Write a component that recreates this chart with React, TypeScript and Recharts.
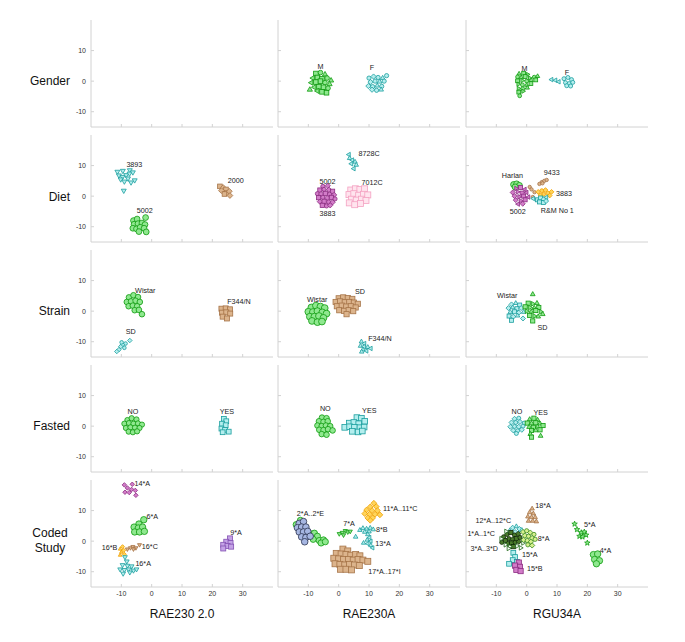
import { Scatter, ScatterChart, XAxis, YAxis } from "recharts";

type Pt = [number, number];
type Note = [number, number, string];

const rowNames = ["Gender", "Diet", "Strain", "Fasted", "Coded Study"];
const colNames = ["RAE230 2.0", "RAE230A", "RGU34A"];
const xTicks = [-10, 0, 10, 20, 30];
const yTicks = [-10, 0, 10];

// Gender
const genderRae230aM: Pt[] = [[-7.5, 2.5], [-6, 2.8], [-4.5, 2.2], [-8.5, 1], [-7, 1.2], [-5.5, 0.8], [-3.8, 1], [-2.5, 0.2], [-9, -0.5], [-7.5, -0.3], [-6, 0], [-4.5, -0.5], [-3, -1], [-8, -2], [-6.5, -1.8], [-5, -2], [-3.5, -2.3], [-9.5, -2.8], [-7, -3.2], [-5.5, -3.5], [-4, -3.8]];
const genderRae230aF: Pt[] = [[10, 1], [11.5, 1.5], [13, 1.2], [14.5, 1], [15.8, 1.8], [10.5, -0.3], [12, 0], [13.5, -0.2], [15, 0], [9.8, -1.6], [11.2, -1.8], [12.7, -1.5], [14.2, -1.7], [11, -2.8], [12.5, -3], [14, -2.8]];
const genderRgu34aM: Pt[] = [[-2.5, 2.4], [-1, 2.6], [0.3, 2.2], [-3, 1.4], [-1.8, 1.2], [-0.5, 1.5], [1, 1], [2.5, 1.3], [3.6, 1.6], [-3, 0.1], [-1.5, 0.2], [0, 0], [1.5, 0.3], [3, 0.4], [-2.8, -1], [-1.4, -1.2], [0, -1.3], [1.4, -0.8], [-2.7, -2.4], [-1.3, -2.5], [0.2, -2.2], [-2.6, -3.6], [-1.2, -3.3], [-2.3, -4.8]];
const genderRgu34aF: Pt[] = [[8.2, 0.5], [9.5, 0.3], [10.6, -0.2], [12.3, 0.8], [13.6, 1.2], [14.8, 0.5], [12.8, -0.5], [14, -0.8], [15.2, -0.4], [13.2, -1.5], [14.5, -1.6]];
const genderRae230aNotes: Note[] = [[-6, 4.9, "M"], [11, 4.3, "F"]];
const genderRgu34aNotes: Note[] = [[-0.7, 4.2, "M"], [13.3, 2.8, "F"]];

// Diet
const dietRae230_3893: Pt[] = [[-11.3, 8], [-9.5, 8.3], [-7.2, 8.5], [-10.8, 6.8], [-9.6, 6.3], [-8.4, 6.9], [-7.3, 7.4], [-6.2, 7.8], [-10.2, 5.5], [-9, 4.8], [-7.8, 5.8], [-6.8, 4.5], [-5.6, 5.2], [-9.2, 1.8]];
const dietRae230_5002: Pt[] = [[-6, -8], [-4.8, -7.5], [-2, -7], [-5.8, -9.2], [-4.5, -9], [-3.2, -8.8], [-2.2, -9.3], [-6.2, -10.5], [-5, -10.7], [-3.8, -10.2], [-2.5, -10.5], [-4.2, -11.6], [-1.8, -11.7]];
const dietRae230_2000: Pt[] = [[22.5, 3.2], [23.6, 2.8], [24.5, 2.2], [23, 1.8], [24.8, 1], [25.6, 1.6], [24, 0.7], [25.8, 0.2]];
const dietRae230a5002: Pt[] = [[-5.2, 3.2], [-3.6, 3.4], [-6.2, 2], [-4.8, 2.2], [-3.2, 2.1], [-2, 1.6], [-7, 0.8], [-5.8, 0.7], [-4.4, 0.9], [-3, 0.6], [-1.5, 0.4], [-6.6, -0.5], [-5.2, -0.4], [-3.8, -0.6], [-2.4, -0.4], [-1.2, -0.9], [-6.2, -1.8], [-4.8, -1.7], [-3.3, -1.9], [-2, -2], [-5.4, -3], [-4, -3.2], [-2.8, -3]];
const dietRae230a8728C: Pt[] = [[3.4, 13.6], [3.6, 12.4], [4.5, 11.8], [5.4, 11.2], [4.2, 10.6], [5.8, 10.2], [5, 9]];
const dietRae230a7012C: Pt[] = [[4, 2], [5.5, 2.4], [7, 2.2], [8.5, 2.4], [3.4, 0.5], [5, 0.8], [6.6, 0.3], [8.2, 0.6], [9.6, 0.4], [4.2, -1], [5.8, -1.3], [7.5, -1], [9, -1.4], [3.5, -2.2], [5.3, -2.8], [7.2, -2.4]];
const dietRgu34aHarlan: Pt[] = [[-4.3, 3.8], [-3.3, 4], [-2.4, 3.5], [-3.8, 3]];
const dietRgu34a5002: Pt[] = [[-3.5, 2.5], [-2, 2.8], [-0.6, 2.2], [-4.6, 1.2], [-3, 1.4], [-1.5, 1], [0, 1.2], [-4, 0], [-2.5, -0.2], [-1, 0], [0.6, -0.3], [-3.6, -1.3], [-2, -1.5], [-0.5, -1.2], [-2.8, -2.6], [-1.3, -2.5]];
const dietRgu34a9433: Pt[] = [[4.2, 4], [5, 4.6], [5.8, 5], [6.6, 5.3], [5.2, 4.2], [1, 3], [1.6, 2.2], [2.6, 1.3], [2, -0.3]];
const dietRgu34a3883: Pt[] = [[3.8, 1.4], [5, 1.8], [6.2, 2], [7, 1], [8.2, 1.4], [5.6, 0.6], [7.6, 0.2], [4.5, 0.3]];
const dietRgu34aRM: Pt[] = [[2.2, -0.8], [3.6, -1.2], [4.6, -0.6], [5.6, -1], [6.5, -0.4], [4.2, -1.9], [5.5, -2.1], [6.4, -1.6]];
const dietRae230Notes: Note[] = [[-5.7, 10.2, "3893"], [-2.3, -4.6, "5002"], [27.7, 5.2, "2000"]];
const dietRae230aNotes: Note[] = [[-3.7, 4.9, "5002"], [-3.7, -5.6, "3883"], [10, 13.8, "8728C"], [11, 4.6, "7012C"]];
const dietRgu34aNotes: Note[] = [[-4.7, 6.7, "Harlan"], [-2.9, -5.1, "5002"], [8.3, 7.6, "9433"], [12.3, 0.8, "3883"], [10.1, -4.8, "R&M No 1"]];

// Strain
const strainRae230Wistar: Pt[] = [[-7.5, 4.5], [-6, 5.2], [-4.5, 4.6], [-8.2, 3], [-6.8, 3.2], [-5.3, 3.4], [-3.9, 3], [-7.6, 1.6], [-6.2, 1.8], [-4.8, 1.6], [-5.6, 0.3], [-4.2, 0.4], [-3.2, -1]];
const strainRae230SD: Pt[] = [[-7.2, -9.6], [-8.6, -10.6], [-9.6, -11], [-10.2, -11.6], [-9, -12], [-10.8, -12.6], [-11.5, -13.2], [-9.9, -10.2]];
const strainRae230F344: Pt[] = [[23, 0.8], [24.4, 0.9], [25.8, 0.6], [23.2, -0.5], [24.6, -0.4], [25.9, -0.8], [23.4, -1.8], [24.8, -2.4]];
const strainRae230aWistar: Pt[] = [[-9, 1.2], [-7.5, 1.8], [-6, 1.5], [-4.6, 1], [-10, -0.2], [-8.5, -0.3], [-7, 0], [-5.4, -0.4], [-4, -0.8], [-9.5, -1.8], [-8, -1.8], [-6.5, -1.6], [-5, -2.2], [-8.8, -3.2], [-7, -3.6], [-5.5, -3.4]];
const strainRae230aSD: Pt[] = [[0, 4.2], [1.5, 4.5], [3, 4.3], [4.5, 4], [-1, 3], [0.5, 3.2], [2, 2.9], [3.5, 3], [5, 2.8], [6.3, 2.4], [-0.6, 1.6], [1, 1.8], [2.5, 1.5], [4, 1.6], [5.6, 1.2], [0.2, 0.3], [1.8, 0.1], [3.3, 0.3], [4.8, 0], [2.6, -1]];
const strainRae230aF344: Pt[] = [[7.5, -10], [8.5, -10.6], [7.2, -11.4], [8.4, -11.6], [9.6, -11.8], [10.6, -12.2], [8, -12.6], [9.2, -13], [7.6, -13.3]];
const strainRgu34aWistar: Pt[] = [[-5, 2.2], [-3.6, 2.6], [-2.3, 2], [-6, 1], [-4.6, 1.2], [-3.2, 0.8], [-1.8, 1], [-5.4, -0.3], [-4, -0.2], [-2.6, -0.5], [-1, -0.3], [-5.8, -1.6], [-4.4, -1.8], [-3, -1.5], [-5, -3], [-1.2, -2.4]];
const strainRgu34aSD: Pt[] = [[2, 5.5], [0.5, 2.6], [2, 2.4], [3.4, 2.6], [-0.5, 1.4], [1, 1.2], [2.5, 1], [4, 1.2], [0, 0], [1.5, -0.2], [3, 0.2], [4.6, -0.2], [5.3, -1], [1, -1.4], [2.5, -1.6], [3.8, -1.8], [2, -3.2]];
const strainRae230Notes: Note[] = [[-2.1, 6.6, "Wistar"], [-6.9, -6.8, "SD"], [28.8, 3.3, "F344/N"]];
const strainRae230aNotes: Note[] = [[-7.1, 3.9, "Wistar"], [7, 6.3, "SD"], [13.6, -8.9, "F344/N"]];
const strainRgu34aNotes: Note[] = [[-6.4, 5.2, "Wistar"], [5.2, -5.5, "SD"]];

// Fasted
const fastedRae230No: Pt[] = [[-8, 2], [-6.6, 2.6], [-5, 2.2], [-9, 0.8], [-7.5, 1], [-6, 0.8], [-4.5, 0.9], [-3.2, 0.5], [-8.5, -0.6], [-7, -0.4], [-5.5, -0.5], [-4, -0.6], [-7.6, -1.8], [-6.2, -2], [-4.8, -1.7]];
const fastedRae230Yes: Pt[] = [[23.8, 2.4], [24.6, 1.6], [23.2, 0.8], [24.4, 0.3], [23, -0.8], [24.2, -1.2], [25.4, -1.8], [23.4, -2]];
const fastedRae230aNo: Pt[] = [[-5.5, 2.8], [-4, 2.6], [-6.5, 1.6], [-5, 1.4], [-3.6, 1.6], [-7, 0.2], [-5.6, 0], [-4.2, 0.2], [-2.8, 0], [-6.4, -1.2], [-5, -1.3], [-3.5, -1], [-2, -1.4], [-5.6, -2.6], [-4, -2.8]];
const fastedRae230aYes: Pt[] = [[6, 2.8], [7.5, 2.6], [8.6, 1.6], [3.5, 1], [5, 1.2], [6.6, 0.8], [2, -0.4], [3.6, -0.2], [5.2, -0.4], [7, -0.5], [8.4, -0.3], [4.5, -1.7], [6.4, -1.9], [7.8, -1.6]];
const fastedRgu34aNo: Pt[] = [[-4, 2.4], [-2.6, 2.6], [-5, 1.2], [-3.6, 1.2], [-2.2, 1.4], [-0.8, 1], [-5.4, -0.2], [-4, -0.1], [-2.6, -0.2], [-1.2, 0], [-4.4, -1.4], [-3, -1.5], [-1.6, -1.2], [-3.4, -2.4]];
const fastedRgu34aYes: Pt[] = [[1, 2.2], [2.4, 2.6], [3.6, 2], [0.2, 1], [1.6, 0.9], [3, 1.1], [4.4, 0.8], [5.4, 0.2], [0.8, -0.3], [2.2, -0.4], [3.6, -0.2], [1.6, -1.4], [3, -1.4], [4.4, -1.2], [1.2, -2.6], [1.6, -3.6], [4.6, -3.2]];
const fastedRae230Notes: Note[] = [[-6.2, 4.7, "NO"], [24.8, 4.7, "YES"]];
const fastedRae230aNotes: Note[] = [[-4.4, 5.7, "NO"], [10.1, 5.2, "YES"]];
const fastedRgu34aNotes: Note[] = [[-3.2, 4.8, "NO"], [4.6, 4.6, "YES"]];

// Coded study
const codedRae230_14A: Pt[] = [[-9, 18.4], [-6.4, 18.6], [-8, 17.4], [-6.6, 16.9], [-8.8, 16], [-7.4, 15.9], [-5.4, 16.6], [-5.2, 15]];
const codedRae230_6A: Pt[] = [[-2.6, 7], [-4.2, 5.6], [-5.8, 4.6], [-4.4, 4.3], [-3, 4.6], [-5.6, 3], [-4, 3], [-2.4, 3.2]];
const codedRae230_16B: Pt[] = [[-9.6, -1.8], [-10.4, -2.6], [-9.2, -3], [-10, -3.6], [-9, -4.3], [-10.4, -4.6]];
const codedRae230_16C: Pt[] = [[-8, -2.6], [-7, -2.2], [-6.2, -1.8], [-5.2, -2.2], [-4, -1.2], [-6, -2.6]];
const codedRae230_16A: Pt[] = [[-8.8, -5.2], [-8.2, -6.6], [-9.6, -7.8], [-8, -8], [-6.6, -8.2], [-10.4, -9.2], [-9, -9.4], [-7.6, -9.2], [-6, -9.6], [-5, -9.2], [-9.4, -10.6], [-7.2, -10.2]];
const codedRae230_9A: Pt[] = [[25.8, 0.9], [24.6, -0.2], [26, -0.6], [23.6, -1.2], [25, -1.6], [26.2, -1.8], [23.6, -2.4]];
const codedRae230a_2Green: Pt[] = [[-14, 5.4], [-12.6, 6.8], [-9.2, 2.4], [-8, 2.6], [-7, 1.6], [-8.4, 0.6], [-6.4, 0.2], [-5, 0.4], [-5.8, -0.6], [-4.4, -0.2]];
const codedRae230a_2Blue: Pt[] = [[-13, 5.8], [-11.6, 6.4], [-13.6, 4.4], [-12.2, 4.6], [-10.8, 4.6], [-13, 3], [-11.6, 3], [-10.2, 3.2], [-12.2, 1.4], [-10.8, 1.2], [-9.4, 1.6], [-11.2, -0.2]];
const codedRae230a_7A: Pt[] = [[0.2, 2.4], [1.2, 2.8], [2.2, 3.4], [3, 3], [3.8, 3.2], [1.6, 2]];
const codedRae230a_11A: Pt[] = [[11.6, 12.4], [10.4, 11.2], [12.4, 11.3], [9.2, 10.2], [11, 10], [12.8, 10], [8.6, 9], [10.2, 8.8], [12, 8.8], [13.6, 8.6], [9.6, 7.6], [11.2, 7.6], [10.4, 6.8]];
const codedRae230a_8B: Pt[] = [[7, 3.6], [8, 4.2], [9.2, 4], [10.4, 4.3], [11.4, 3.8], [8.6, 3], [10, 3.1], [5.6, 1.4], [9.6, 2.2]];
const codedRae230a_13A: Pt[] = [[10.2, 1.2], [9.4, 0.4], [10.6, 0], [8.2, -0.6], [9.6, -0.8], [10.6, -1.4], [11.2, -2.2]];
const codedRae230a_17A: Pt[] = [[1.4, -2.6], [3, -3.2], [-0.8, -4], [0.8, -4.2], [2.4, -4.4], [4, -4.6], [5.6, -4.4], [7, -4.8], [-1.6, -5.6], [0, -5.8], [1.6, -6], [3.2, -6], [4.8, -6.2], [6.4, -6], [8, -6.2], [9.6, -6.6], [-1.2, -7.4], [0.4, -7.6], [2, -7.8], [3.6, -7.6], [5.2, -7.8], [6.8, -8], [0.6, -9.2], [2.4, -9.2], [4.2, -9.4]];
const codedRgu34a_18A: Pt[] = [[1.8, 10.6], [1, 9.4], [2.2, 9], [0.4, 8], [1.6, 7.8], [2.8, 7.8], [0.6, 6.6], [2, 6.6], [3.2, 6.4]];
const codedRgu34a_12A: Pt[] = [[-4.6, 4.4], [-3.4, 4.8], [-2.4, 4], [-5.6, 3.4], [-3.8, 3], [-1.6, 3.6]];
const codedRgu34a_1A: Pt[] = [[-7.6, 1.4], [-6.4, 2.2], [-5.2, 2.8], [-4, 2], [-2.8, 2.4], [-7, 0.2], [-5.8, 0.8], [-4.6, 0.6], [-3.4, 0.8], [-2.2, 1.2], [-6.2, -0.8], [-5, -0.6], [-3.8, -0.4], [-2.6, -0.2], [-4.4, -1.8], [-8.2, -0.4]];
const codedRgu34a_3A: Pt[] = [[-8.4, 0.8], [-7, -1.2], [-5.6, -1.8], [-3.2, -1.6], [-2, -2.2], [-1.2, -0.6], [-6.8, 3.2], [-6, -2.4]];
const codedRgu34a_8A: Pt[] = [[-1.2, 3], [0, 3.4], [1.2, 2.8], [2.4, 2.2], [-0.6, 1.8], [0.6, 1.6], [1.8, 1], [2.8, 0.6], [-1, 0.4], [0.2, 0.2], [1.4, -0.2], [0.4, -1.2], [1.8, -1.4]];
const codedRgu34a_15A: Pt[] = [[-4.4, -3.8], [-3.8, -5.2], [-4.6, -6.2], [-5.8, -7.4], [-3.2, -6.8]];
const codedRgu34a_15B: Pt[] = [[-2.6, -7], [-3.8, -8], [-2.2, -8.4], [-3.4, -9.4], [-2, -9.8]];
const codedRgu34a_5A: Pt[] = [[15.8, 5.6], [16.6, 3.8], [18, 2.8], [19, 3], [19.6, 2], [17.4, 1.6], [18.4, 1.4], [20, -0.6]];
const codedRgu34a_4A: Pt[] = [[22, -4.4], [23.4, -4.2], [22.4, -6], [24, -6.4], [23, -7.4]];
const codedRae230Notes: Note[] = [[-3.1, 18.9, "14*A"], [0.2, 8, "6*A"], [-13.9, -2.2, "16*B"], [-0.6, -1.6, "16*C"], [-2.8, -7.3, "16*A"], [27.8, 2.8, "9*A"]];
const codedRae230aNotes: Note[] = [[-9.3, 9.1, "2*A..2*E"], [3.4, 5.8, "7*A"], [20.3, 10.7, "11*A..11*C"], [14.2, 3.8, "8*B"], [14.6, -0.8, "13*A"], [15.1, -9.8, "17*A..17*I"]];
const codedRgu34aNotes: Note[] = [[5.4, 11.8, "18*A"], [-11, 6.7, "12*A..12*C"], [-15, 2.5, "1*A..1*C"], [-14, -2.4, "3*A..3*D"], [5.6, 0.9, "8*A"], [1, -4.3, "15*A"], [2.7, -9, "15*B"], [20.8, 5.5, "5*A"], [26, -3, "4*A"]];

const FONT = "'Liberation Sans', Arial, Helvetica, sans-serif";
const PLOT_W = 182;
const PLOT_H = 107;
const Y_AXIS_W = 20;
const X_AXIS_H = 20;
const COL_LEFT = [91, 278, 466];
const ROW_TOP = [20, 135, 250, 365, 480];
const AXIS = "#d2d2d2";

const palette: Record<string, { fill: string; stroke: string }> = {
  green: { fill: "#8fe88f", stroke: "#0f9a0f" },
  teal: { fill: "#b4eeee", stroke: "#1a9e9e" },
  tan: { fill: "#dcb48c", stroke: "#a67448" },
  magenta: { fill: "#d27cc8", stroke: "#8c2c82" },
  pink: { fill: "#ffe4ee", stroke: "#f4a2c2" },
  orange: { fill: "#ffd45a", stroke: "#f0a000" },
  purple: { fill: "#c4a2e6", stroke: "#8452b4" },
  blue: { fill: "#a6b6e2", stroke: "#2c3450" },
  dark: { fill: "#4a7a2c", stroke: "#102a08" },
  outline: { fill: "#ffffff", stroke: "#1f6a18" },
  lime: { fill: "#d6f08e", stroke: "#3a8a1e" },
};

interface Group {
  points: Pt[];
  color: string;
  shapes: string[];
  r: number;
}
interface Panel {
  groups: Group[];
  notes: Note[];
}

const g = (points: Pt[], color: string, shapes: string[], r: number): Group => ({ points, color, shapes, r });

const panels: Panel[][] = [
  [
    { groups: [], notes: [] },
    {
      groups: [g(genderRae230aM, "green", ["s", "o", "^", "<", "s"], 2.3), g(genderRae230aF, "teal", ["o", "d", "o", "^"], 2.1)],
      notes: genderRae230aNotes,
    },
    {
      groups: [g(genderRgu34aM, "green", ["^", "s", ">", "o"], 1.9), g(genderRgu34aF, "teal", ["<", "<", "<", "o", "o", "o", "o", "o", "o", "o", "o"], 2)],
      notes: genderRgu34aNotes,
    },
  ],
  [
    {
      groups: [g(dietRae230_3893, "teal", ["v"], 2.2), g(dietRae230_5002, "green", ["o"], 2.9), g(dietRae230_2000, "tan", ["s", "d"], 2.3)],
      notes: dietRae230Notes,
    },
    {
      groups: [g(dietRae230a5002, "magenta", ["o", "d", "s"], 2.1), g(dietRae230a8728C, "teal", ["<", "^"], 2), g(dietRae230a7012C, "pink", ["s"], 3)],
      notes: dietRae230aNotes,
    },
    {
      groups: [
        g(dietRgu34aHarlan, "green", ["o"], 3),
        g(dietRgu34a9433, "tan", ["o"], 1.7),
        g(dietRgu34a5002, "magenta", [">", "s", "<", "d"], 2),
        g(dietRgu34a3883, "orange", ["d", "o"], 1.9),
        g(dietRgu34aRM, "teal", ["<", "s", "s", "d"], 2),
      ],
      notes: dietRgu34aNotes,
    },
  ],
  [
    {
      groups: [g(strainRae230Wistar, "green", ["o"], 2.8), g(strainRae230SD, "teal", ["d", "o", "d"], 1.8), g(strainRae230F344, "tan", ["s"], 2.5)],
      notes: strainRae230Notes,
    },
    {
      groups: [g(strainRae230aWistar, "green", ["o"], 3.4), g(strainRae230aSD, "tan", ["s"], 2.6), g(strainRae230aF344, "teal", ["^", "<"], 2)],
      notes: strainRae230aNotes,
    },
    {
      groups: [g(strainRgu34aWistar, "teal", ["d", "^", "s"], 2), g(strainRgu34aSD, "green", ["^", "s", ">"], 2.1)],
      notes: strainRgu34aNotes,
    },
  ],
  [
    {
      groups: [g(fastedRae230No, "green", ["o"], 2.6), g(fastedRae230Yes, "teal", ["s"], 2.4)],
      notes: fastedRae230Notes,
    },
    {
      groups: [g(fastedRae230aNo, "green", ["o"], 2.8), g(fastedRae230aYes, "teal", ["s"], 2.8)],
      notes: fastedRae230aNotes,
    },
    {
      groups: [g(fastedRgu34aNo, "teal", ["d", "o"], 2), g(fastedRgu34aYes, "green", ["^", "s"], 2.1)],
      notes: fastedRgu34aNotes,
    },
  ],
  [
    {
      groups: [
        g(codedRae230_14A, "magenta", ["d"], 1.8),
        g(codedRae230_6A, "green", ["o"], 3.2),
        g(codedRae230_16B, "orange", ["d", "^"], 1.6),
        g(codedRae230_16C, "tan", ["v"], 1.8),
        g(codedRae230_16A, "teal", ["v"], 2.1),
        g(codedRae230_9A, "purple", ["s"], 2.5),
      ],
      notes: codedRae230Notes,
    },
    {
      groups: [
        g(codedRae230a_17A, "tan", ["s"], 3),
        g(codedRae230a_2Green, "green", ["o"], 3.1),
        g(codedRae230a_2Blue, "blue", ["o"], 3.3),
        g(codedRae230a_7A, "green", ["v"], 1.9),
        g(codedRae230a_11A, "orange", ["d"], 2.3),
        g(codedRae230a_8B, "teal", ["^"], 2),
        g(codedRae230a_13A, "teal", ["<", "^"], 1.9),
      ],
      notes: codedRae230aNotes,
    },
    {
      groups: [
        g(codedRgu34a_18A, "tan", ["^"], 2),
        g(codedRgu34a_12A, "teal", ["d", "^"], 2),
        g(codedRgu34a_1A, "dark", ["o", "d", "s"], 2.1),
        g(codedRgu34a_3A, "outline", [">"], 2),
        g(codedRgu34a_8A, "lime", ["d", "o"], 2.1),
        g(codedRgu34a_15A, "teal", ["s"], 2.4),
        g(codedRgu34a_15B, "magenta", ["s"], 2.6),
        g(codedRgu34a_5A, "green", ["p"], 2.2),
        g(codedRgu34a_4A, "green", ["o"], 3.2),
      ],
      notes: codedRgu34aNotes,
    },
  ],
];

const TRI: Record<string, number[]> = {
  "^": [-90, 30, 150],
  v: [90, 210, 330],
  "<": [180, 300, 60],
  ">": [0, 120, 240],
};

function Marker({ cx, cy, kind, r, color }: { cx: number; cy: number; kind: string; r: number; color: string }) {
  const { fill, stroke } = palette[color];
  const common = { fill, stroke, strokeWidth: 0.8 };
  if (kind === "s") {
    return <rect x={cx - r} y={cy - r} width={2 * r} height={2 * r} {...common} />;
  }
  if (kind === "d") {
    const a = r * 1.25;
    return <polygon points={`${cx},${cy - a} ${cx + a},${cy} ${cx},${cy + a} ${cx - a},${cy}`} {...common} />;
  }
  if (TRI[kind]) {
    const R = r * 1.3;
    const pts = TRI[kind].map((deg) => {
      const t = (deg * Math.PI) / 180;
      return `${cx + R * Math.cos(t)},${cy + R * Math.sin(t)}`;
    });
    return <polygon points={pts.join(" ")} {...common} />;
  }
  if (kind === "p") {
    const pts: string[] = [];
    for (let i = 0; i < 10; i++) {
      const t = ((-90 + i * 36) * Math.PI) / 180;
      const R = i % 2 === 0 ? r * 1.3 : r * 0.55;
      pts.push(`${cx + R * Math.cos(t)},${cy + R * Math.sin(t)}`);
    }
    return <polygon points={pts.join(" ")} {...common} />;
  }
  return <circle cx={cx} cy={cy} r={r} {...common} />;
}

const centerOf = (p: any) => ({
  cx: p.cx ?? p.x + (p.width ?? 0) / 2,
  cy: p.cy ?? p.y + (p.height ?? 0) / 2,
});

function PanelChart({ panel, row, col }: { panel: Panel; row: number; col: number }) {
  const noteData = panel.notes.map(([x, y, text]) => ({ x, y, text }));
  return (
    <div style={{ position: "absolute", left: COL_LEFT[col] - Y_AXIS_W, top: ROW_TOP[row] }}>
      <ScatterChart width={PLOT_W + Y_AXIS_W} height={PLOT_H + X_AXIS_H} margin={{ top: 0, right: 0, bottom: 0, left: 0 }}>
        <XAxis
          type="number"
          dataKey="x"
          domain={[-20, 40]}
          ticks={xTicks}
          allowDataOverflow
          interval={0}
          height={X_AXIS_H}
          axisLine={{ stroke: AXIS }}
          tickLine={{ stroke: AXIS }}
          tickSize={-3}
          tickMargin={7}
          tick={row === 4 ? { fontSize: 7, fill: "#333", fontFamily: FONT } : () => null}
        />
        <YAxis
          type="number"
          dataKey="y"
          domain={[-15, 20]}
          ticks={yTicks}
          allowDataOverflow
          interval={0}
          width={Y_AXIS_W}
          axisLine={{ stroke: AXIS }}
          tickLine={{ stroke: AXIS }}
          tickSize={-3}
          tickMargin={8}
          tick={col === 0 ? { fontSize: 7, fill: "#333", fontFamily: FONT } : () => null}
        />
        {panel.groups.map((grp, i) => (
          <Scatter
            key={i}
            data={grp.points.map(([x, y], k) => ({ x, y, kind: grp.shapes[k % grp.shapes.length] }))}
            isAnimationActive={false}
            shape={(p: any) => {
              const { cx, cy } = centerOf(p);
              return <Marker cx={cx} cy={cy} kind={p.payload?.kind ?? p.kind} r={grp.r} color={grp.color} />;
            }}
          />
        ))}
        {noteData.length > 0 && (
          <Scatter
            data={noteData}
            isAnimationActive={false}
            shape={(p: any) => {
              const { cx, cy } = centerOf(p);
              return (
                <text x={cx} y={cy} textAnchor="middle" dominantBaseline="central" fontSize={7.2} fill="#222" fontFamily={FONT}>
                  {p.payload?.text ?? p.text}
                </text>
              );
            }}
          />
        )}
      </ScatterChart>
    </div>
  );
}

export default function App() {
  const rowMid = [81, 197, 311, 426];
  return (
    <div style={{ position: "absolute", left: 0, top: 0, width: 685, height: 642, background: "#fff" }}>
      <svg width={685} height={642} style={{ position: "absolute", left: 0, top: 0 }}>
        {rowNames.slice(0, 4).map((name, i) => (
          <text key={name} x={70} y={rowMid[i]} textAnchor="end" dominantBaseline="central" fontSize={12} fill="#111" fontFamily={FONT}>
            {name}
          </text>
        ))}
        {rowNames[4].split(" ").map((word, i) => (
          <text key={word} x={50} y={533 + i * 14.5} textAnchor="middle" dominantBaseline="central" fontSize={12} fill="#111" fontFamily={FONT}>
            {word}
          </text>
        ))}
        {colNames.map((name, i) => (
          <text key={name} x={COL_LEFT[i] + PLOT_W / 2} y={614} textAnchor="middle" dominantBaseline="central" fontSize={12} fill="#111" fontFamily={FONT}>
            {name}
          </text>
        ))}
      </svg>
      {panels.map((row, r) => row.map((panel, c) => <PanelChart key={`${r}-${c}`} panel={panel} row={r} col={c} />))}
    </div>
  );
}
